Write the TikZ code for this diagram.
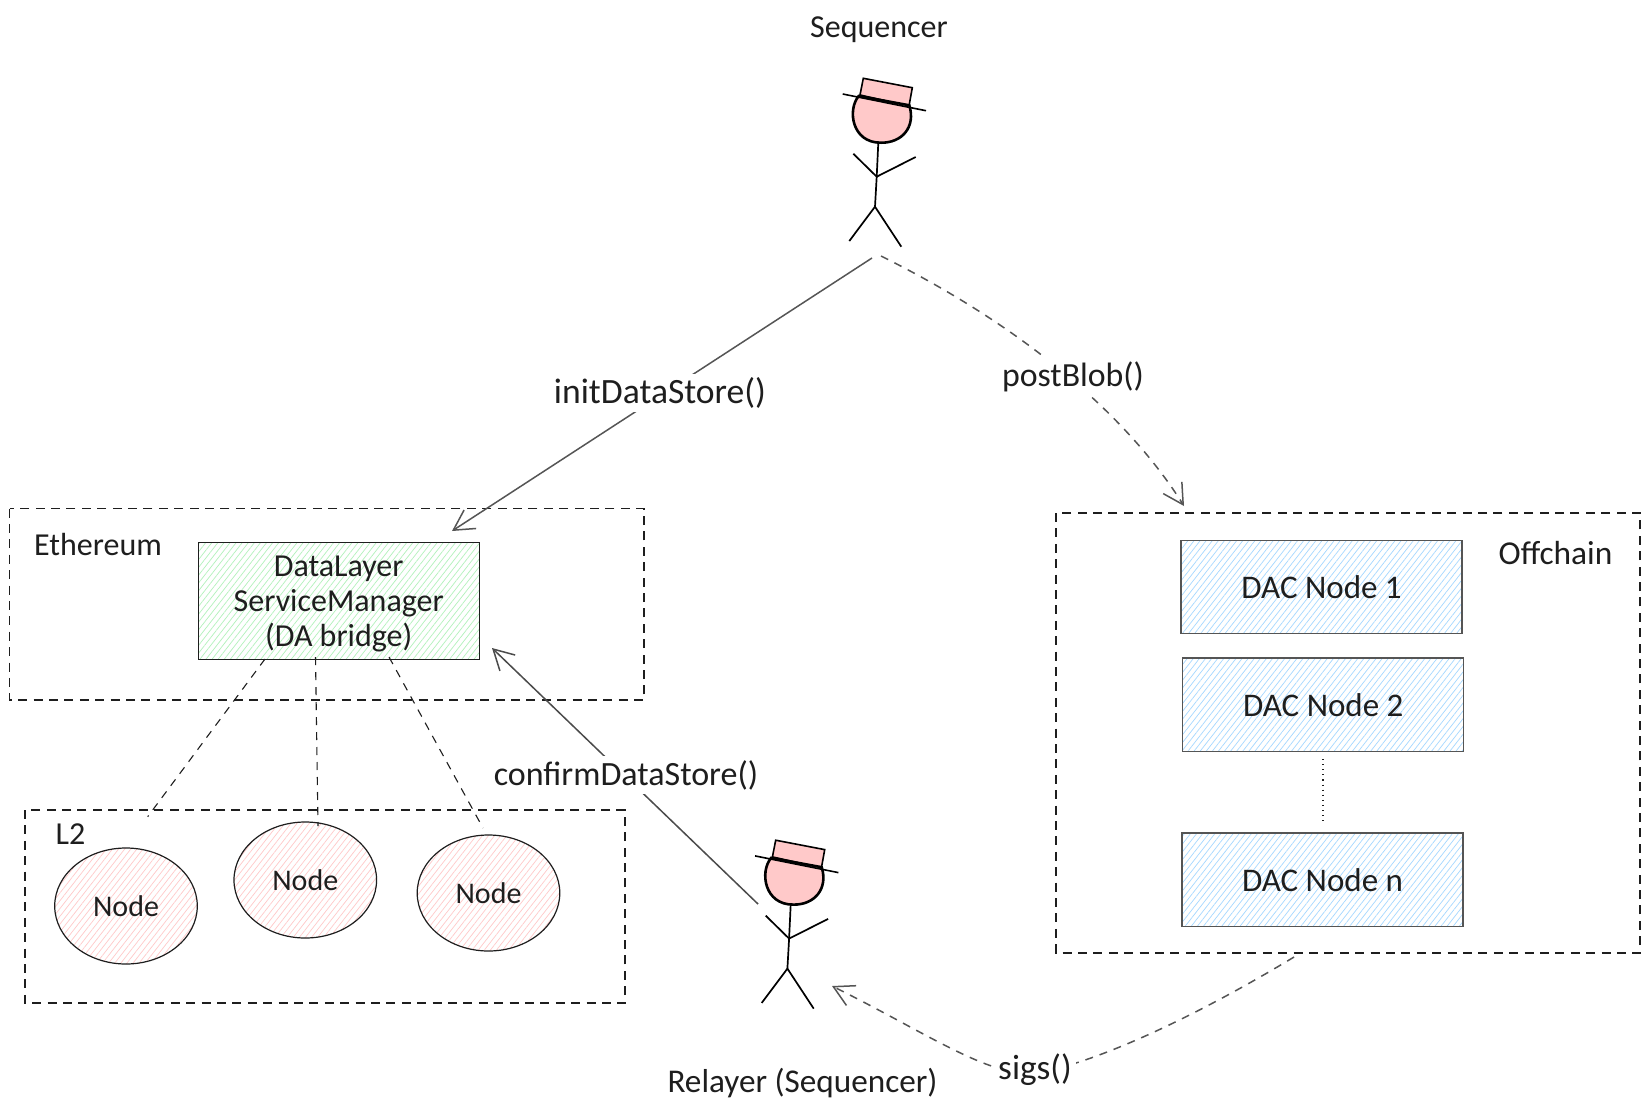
\documentclass[tikz,border=0pt]{standalone}
\usepackage{fontspec}
\setmainfont{Carlito}
\usetikzlibrary{arrows.meta,patterns.meta,shapes.geometric}
\definecolor{ink}{HTML}{1E1E1E}
\definecolor{wire}{HTML}{555555}
\definecolor{skin}{HTML}{FFC9C9}
\definecolor{hatchgreen}{HTML}{B2F2BB}
\definecolor{hatchred}{HTML}{FFC9C9}
\definecolor{hatchblue}{HTML}{A5D8FF}
\tikzset{
  x=0.5pt, y=-0.5pt,
  txt/.style={font=\fontsize{16}{17.5}\selectfont, text=ink, align=center, inner sep=1pt},
  lbl/.style={txt, fill=white, inner sep=2pt},
  zone/.style={draw=ink, line width=0.55pt, dash pattern=on 4.5pt off 3.2pt},
  hatched/.style={pattern={Lines[angle=52,distance=2.4pt,line width=0.35pt]}, pattern color=#1},
  dlbox/.style={draw=ink, line width=0.5pt, rectangle, minimum width=140.7pt, minimum height=57.5pt, hatched=hatchgreen, inner sep=0pt, txt},
  dacbox/.style={draw=wire, line width=0.55pt, rectangle, minimum width=140.5pt, minimum height=46.7pt, hatched=hatchblue, inner sep=0pt, txt},
  chainnode/.style={draw=ink, line width=0.6pt, ellipse, minimum width=71.3pt, minimum height=58pt, hatched=hatchred, inner sep=0pt, txt, font=\fontsize{15}{16}\selectfont},
  call/.style={draw=wire, line width=0.75pt, -{Straight Barb[length=10pt,width=11pt,line width=0.75pt]}},
  dashcall/.style={call, dash pattern=on 4pt off 3.5pt},
  link/.style={draw=ink, line width=0.55pt, dash pattern=on 4pt off 3.5pt},
  stickfig/.pic={
    \draw[fill=skin, line width=0.8pt, line join=miter] (-11.7,-128.4) -- (37.3,-119) -- (34,-100.7) -- (-15,-111.7) -- cycle;
    \draw[fill=skin, line width=1.3pt] (-16.3,-110.7) .. controls (-28,-96.7) and (-23,-63.7) .. (6,-64)
      .. controls (27,-63.7) and (41,-79.7) .. (34.3,-101.4) -- cycle;
    \draw[line width=0.8pt] (-32.3,-112.7) -- (51,-96);
    \draw[line width=0.85pt] (3.3,-64) -- (1.7,-30) -- (0,0);
    \draw[line width=0.85pt] (-21.7,-53) -- (1.7,-30) -- (40.7,-49.7);
    \draw[line width=0.85pt] (-25.7,34.3) -- (0,0) -- (26.3,40);
  }
}
\begin{document}
\begin{tikzpicture}
\useasboundingbox (0,0) rectangle (1649,1110);
\fill[white] (0,0) rectangle (1649,1110);

% dashed containers
\draw[zone] (9.5,508.5) rectangle (644,700);
\draw[zone] (25,810) rectangle (625,1003);
\draw[zone] (1056,513) rectangle (1640,953);

% stick figures
\pic at (875,206.7) {stickfig};
\pic at (787.4,968.6) {stickfig};
\node[txt] (seqname) at (879,30) {Sequencer};
\node[txt, font=\fontsize{16.6}{18}\selectfont] (relname) at (802.5,1083) {Relayer (Sequencer)};

% Ethereum side
\node[txt] (ethname) at (98,544) {Ethereum};
\node[dlbox] (dl) at (338.7,600.8) {\begin{tabular}{@{}c@{}}\rule{0pt}{16pt}DataLayer\\ServiceManager\\(DA bridge)\end{tabular}};

% L2 side
\node[txt] (l2name) at (70.5,834) {L2};
\node[chainnode] (n1) at (126,906) {Node};
\node[chainnode] (n2) at (305.3,880) {Node};
\node[chainnode] (n3) at (488.5,893) {Node};

% offchain side
\node[txt, font=\fontsize{16.7}{18}\selectfont] (offname) at (1555.5,553) {Offchain};
\node[dacbox, font=\fontsize{16.5}{18}\selectfont] (dac1) at (1321.5,587) {DAC Node 1};
\node[dacbox, font=\fontsize{16.5}{18}\selectfont] (dac2) at (1323.2,704.7) {DAC Node 2};
\node[dacbox, font=\fontsize{16.5}{18}\selectfont] (dacn) at (1322.5,879.7) {DAC Node n};

% free ends of the connectors
\coordinate (seqL) at (872,258);
\coordinate (seqR) at (881,256);
\coordinate (dlTip) at (452,531);
\coordinate (offTip) at (1184,506);
\coordinate (relOut) at (758,904);
\coordinate (dlIn) at (492,648);
\coordinate (offOut) at (1294,957);
\coordinate (sigMid) at (1035,1073);
\coordinate (relIn) at (832,986);
\coordinate (dlA) at (265,659);
\coordinate (l2A) at (147.7,816.7);
\coordinate (dlB) at (315.5,657);
\coordinate (l2B) at (318,826);
\coordinate (dlC) at (389,657);
\coordinate (l2C) at (483,828);
\coordinate (dacDotA) at (1323,759);
\coordinate (dacDotB) at (1323,824);

% bridge to L2 links
\draw[link] (dlA) -- (l2A);
\draw[link] (dlB) -- (l2B);
\draw[link] (dlC) -- (l2C);
\draw[ink, line width=0.55pt, dotted] (dacDotA) -- (dacDotB);

% calls between the actors and the containers
\draw[call] (seqL) -- (dlTip);
\draw[dashcall] (seqR) .. controls (1030,330) and (1130,420) .. (offTip);
\draw[call, draw=ink!80] (relOut) -- (dlIn);
\draw[dashcall] (offOut) .. controls (1190,1020) and (1090,1065) .. (sigMid) .. controls (990,1078) and (925,1032) .. (relIn);

% labels sit on the connectors and interrupt them
\node[lbl, font=\fontsize{17.8}{19}\selectfont] (initlbl) at (660,393) {initDataStore()};
\node[lbl, font=\fontsize{16.9}{18}\selectfont] (postlbl) at (1073,377) {postBlob()};
\node[lbl, font=\fontsize{17}{18}\selectfont] (conflbl) at (626,775) {confirmDataStore()};
\node[lbl, font=\fontsize{17.6}{19}\selectfont] (siglbl) at (1035,1070) {sigs()};
\end{tikzpicture}
\end{document}
